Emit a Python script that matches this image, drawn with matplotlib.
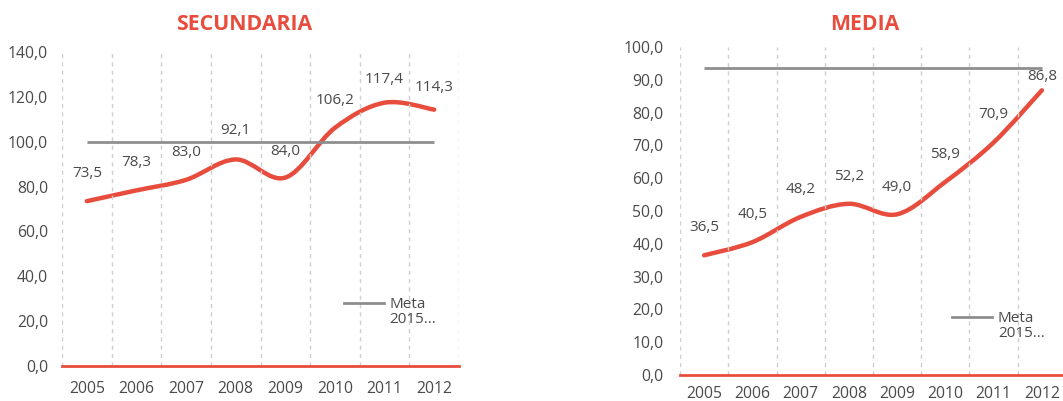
import matplotlib.pyplot as plt
from matplotlib.path import Path
from matplotlib.patches import PathPatch
from matplotlib.lines import Line2D
from matplotlib.ticker import FuncFormatter

# datos
years = ['2005', '2006', '2007', '2008', '2009', '2010', '2011', '2012']
secundaria = [73.5, 78.3, 83.0, 92.1, 84.0, 106.2, 117.4, 114.3]
media = [36.5, 40.5, 48.2, 52.2, 49.0, 58.9, 70.9, 86.8]
meta_secundaria = 100.0
meta_media = 93.5

RED = '#E84C3D'
GRAY = '#8E8E8E'
TXT = '#4a4a4a'

plt.rcParams['font.family'] = ['Open Sans', 'DejaVu Sans']


def smooth_path(ys):
	# curva suavizada tipo Excel (bezier a traves de los puntos)
	xs = list(range(len(ys)))
	pts = list(zip(xs, ys))
	verts = [pts[0]]
	codes = [Path.MOVETO]
	n = len(pts)
	for i in range(n - 1):
		p0 = pts[i - 1] if i > 0 else pts[i]
		p1 = pts[i]
		p2 = pts[i + 1]
		p3 = pts[i + 2] if i + 2 < n else pts[i + 1]
		c1 = (p1[0] + (p2[0] - p0[0]) / 6, p1[1] + (p2[1] - p0[1]) / 6)
		c2 = (p2[0] - (p3[0] - p1[0]) / 6, p2[1] - (p3[1] - p1[1]) / 6)
		verts += [c1, c2, p2]
		codes += [Path.CURVE4] * 3
	return Path(verts, codes)


def draw_panel(ax, values, meta, ymax, step, title_x, title, legend_anchor, xpad, ypad, lifts):
	x = range(len(years))
	ax.plot([0, len(years) - 1], [meta, meta], color=GRAY, lw=2, solid_capstyle='butt')
	ax.add_patch(PathPatch(smooth_path(values), fill=False, edgecolor=RED, lw=3.2, capstyle='round'))
	for i, v in enumerate(values):
		ax.annotate(f'{v:.1f}'.replace('.', ','), (i, v), xytext=(0, lifts[i]),
					textcoords='offset points', ha='center', va='center',
					fontsize=11, color=TXT)
	ax.set_xlim(-0.5, len(years) - 0.5)
	ax.set_ylim(0, ymax)
	ax.set_xticks(list(x))
	ax.set_xticklabels(years)
	ax.set_xticks([i - 0.5 for i in range(len(years) + 1)], minor=True)
	ax.set_yticks([i * step for i in range(int(ymax / step) + 1)])
	ax.yaxis.set_major_formatter(FuncFormatter(lambda v, p: f'{v:.1f}'.replace('.', ',')))
	ax.grid(which='minor', axis='x', color='#cfcfcf', lw=1, linestyle=(0, (3, 3)))
	ax.tick_params(which='both', length=0)
	ax.tick_params(axis='x', pad=xpad, labelsize=11.3, labelcolor=TXT)
	ax.tick_params(axis='y', pad=ypad, labelsize=11.3, labelcolor=TXT)
	for s in ['top', 'left', 'right']:
		ax.spines[s].set_visible(False)
	ax.spines['bottom'].set_color(RED)
	ax.spines['bottom'].set_linewidth(2)
	ax.patch.set_alpha(0)
	handles = [Line2D([], [], color=GRAY, lw=2), Line2D([], [], color='none')]
	ax.legend(handles, ['Meta', '2015...'], loc='upper left', bbox_to_anchor=legend_anchor,
			  frameon=False, fontsize=11, handlelength=2.6, handletextpad=0.4,
			  labelspacing=0.02, borderpad=0, borderaxespad=0, labelcolor=TXT)
	ax.figure.text(title_x, 1 - 24 / 401, title, ha='center', va='center',
				   fontsize=15.3, fontweight='bold', color=RED)


fig = plt.figure(figsize=(10.63, 4.01), dpi=100)
ax1 = fig.add_axes([62 / 1063, 35 / 401, 397 / 1063, 314 / 401])
ax2 = fig.add_axes([680 / 1063, 26 / 401, 386 / 1063, 328 / 401])
ax2.spines['bottom'].set_clip_on(False)

draw_panel(ax1, secundaria, meta_secundaria, 140, 20, 244 / 1063, 'SECUNDARIA',
		   (0.71, 0.22), 11, 10, [20, 20, 20, 21, 19, 20, 17, 16])
draw_panel(ax2, media, meta_media, 100, 10, 865 / 1063, 'MEDIA',
		   (0.705, 0.195), 8, 12, [20, 20, 20, 20, 19, 20, 20, 10])

fig.savefig('out.png', dpi=100)
